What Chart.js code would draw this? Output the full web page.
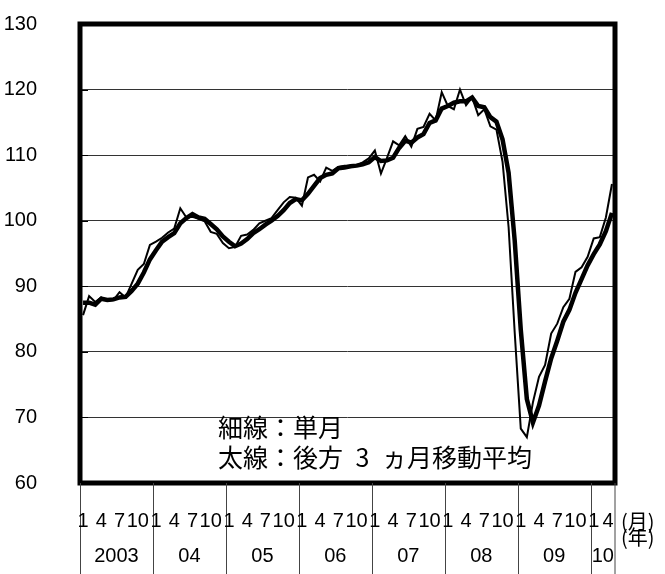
<!DOCTYPE html>
<html>
<head>
<meta charset="utf-8">
<script src="https://cdn.jsdelivr.net/npm/chart.js@4.4.1/dist/chart.umd.min.js"></script>
<style>
  html, body { margin: 0; padding: 0; background: #fff; }
  canvas { display: block; }
</style>
</head>
<body>
<canvas id="grafica" width="665" height="574"></canvas>
<script>
// años y meses del eje x
const years = ['2003', '04', '05', '06', '07', '08', '09', '10'];
const monthsPerYear = [12, 12, 12, 12, 12, 12, 12, 4];
const monthTicks = ['1', '4', '7', '10'];

// 細線：単月
const monthly = [
  85.6, 88.5, 87.6, 88.3, 87.8, 87.9, 89.1, 88.3, 90.4, 92.5, 93.4, 96.3,
  96.8, 97.4, 98.2, 98.8, 101.9, 100.5, 100.6, 100.3, 99.9, 98.3, 98.0, 96.6,
  95.8, 96.0, 97.7, 97.9, 98.6, 99.6, 100.0, 100.4, 101.6, 102.8, 103.6, 103.5,
  102.3, 106.6, 107.0, 106.0, 108.1, 107.6, 108.2, 108.4, 108.4, 108.4, 108.9, 109.5,
  110.7, 107.2, 109.6, 112.1, 111.5, 112.9, 111.3, 114.0, 114.3, 116.3, 115.3, 119.6,
  117.5, 117.0, 120.0, 117.6, 118.8, 116.1, 117.0, 114.4, 113.9, 109.0, 99.0, 83.0,
  68.3, 67.0, 72.3, 76.2, 78.0, 82.8, 84.3, 86.8, 88.1, 92.2, 92.9, 94.5,
  97.3, 97.5, 100.5, 105.6
];

// 太線：後方３ヵ月移動平均
const movingAvg3 = [
  87.5, 87.5, 87.2, 88.1, 87.9, 88.0, 88.3, 88.4, 89.3, 90.4, 92.1, 94.1,
  95.5, 96.8, 97.5, 98.1, 99.6, 100.4, 101.0, 100.5, 100.3, 99.5, 98.7, 97.6,
  96.8, 96.1, 96.5, 97.2, 98.1, 98.7, 99.4, 100.0, 100.7, 101.6, 102.7, 103.3,
  103.1, 104.1, 105.3, 106.5, 107.0, 107.2, 108.0, 108.1, 108.3, 108.4, 108.6, 108.9,
  109.7, 109.1, 109.2, 109.6, 111.1, 112.2, 111.9, 112.7, 113.2, 114.9, 115.3, 117.1,
  117.5, 118.0, 118.2, 118.2, 118.8, 117.5, 117.3, 115.8, 115.1, 112.4, 107.3, 97.0,
  83.4, 72.8, 69.2, 71.8, 75.5, 79.0, 81.7, 84.6, 86.4, 89.0, 91.1, 93.2,
  94.9, 96.4, 98.4, 101.2
];

const legendLines = ['細線：単月', '太線：後方\u20023\u2002ヵ月移動平均'];
const unitLabels = ['(月)', '(年)'];

const numFont = "'Liberation Sans', Arial, sans-serif";
const cjkFont = "'Noto Sans CJK JP', sans-serif";

// etiquetas de categoría: año/mes
const labels = [];
years.forEach((y, k) => {
  for (let m = 1; m <= monthsPerYear[k]; m++) {
    labels.push(y + '/' + m);
  }
});

const fondoBlanco = {
  id: 'fondoBlanco',
  beforeDraw(chart) {
    const ctx = chart.ctx;
    ctx.save();
    ctx.fillStyle = '#fff';
    ctx.fillRect(0, 0, chart.width, chart.height);
    ctx.restore();
  }
};

const marcoYTextos = {
  id: 'marcoYTextos',
  afterDraw(chart) {
    const ctx = chart.ctx;
    const area = chart.chartArea;
    const xs = chart.scales.x;
    const ys = chart.scales.y;
    const catW = xs.getPixelForValue(1) - xs.getPixelForValue(0);

    ctx.save();

    // marquitas hacia dentro en el borde izquierdo
    ctx.strokeStyle = '#000';
    ctx.lineWidth = 1;
    ys.ticks.forEach(t => {
      const py = Math.round(ys.getPixelForValue(t.value)) + 0.5;
      ctx.beginPath();
      ctx.moveTo(area.left, py);
      ctx.lineTo(area.left + 8, py);
      ctx.stroke();
    });

    // marco grueso
    ctx.lineWidth = 5;
    ctx.strokeRect(area.left, area.top, area.right - area.left, area.bottom - area.top);

    // separadores de año y etiquetas
    ctx.lineWidth = 1;
    ctx.strokeStyle = '#444';
    ctx.fillStyle = '#000';
    ctx.textBaseline = 'middle';
    let idx = 0;
    years.forEach((y, k) => {
      const sep = xs.getPixelForValue(idx) - catW / 2;
      const fin = xs.getPixelForValue(idx + monthsPerYear[k] - 1) + catW / 2;
      ctx.beginPath();
      ctx.moveTo(Math.round(sep) + 0.5, area.bottom);
      ctx.lineTo(Math.round(sep) + 0.5, chart.height);
      ctx.stroke();

      ctx.font = '20px ' + numFont;
      ctx.textAlign = 'center';
      monthTicks.forEach(mt => {
        const m = parseInt(mt, 10);
        if (m <= monthsPerYear[k]) {
          // el último mes no pasa la línea del borde derecho
          const px = Math.min(xs.getPixelForValue(idx + m - 1), area.right - 7);
          ctx.fillText(mt, px, 521);
        }
      });
      ctx.fillText(y, (sep + fin) / 2, 556);
      idx += monthsPerYear[k];
    });
    ctx.beginPath();
    ctx.moveTo(area.right, area.bottom);
    ctx.lineTo(area.right, chart.height);
    ctx.stroke();

    ctx.textAlign = 'left';
    ctx.font = '20px ' + cjkFont;
    ctx.fillText(unitLabels[0], area.right + 6, 521);
    ctx.fillText(unitLabels[1], area.right + 6, 537);

    // leyenda dentro del gráfico
    ctx.font = '25px ' + cjkFont;
    ctx.fillText(legendLines[0], 218, 427);
    ctx.fillText(legendLines[1], 218, 457);

    ctx.restore();
  }
};

new Chart(document.getElementById('grafica').getContext('2d'), {
  type: 'line',
  data: {
    labels: labels,
    datasets: [
      {
        label: '単月',
        data: monthly,
        borderColor: '#000',
        borderWidth: 2,
        pointRadius: 0,
        tension: 0
      },
      {
        label: '後方３ヵ月移動平均',
        data: movingAvg3,
        borderColor: '#000',
        borderWidth: 4.5,
        pointRadius: 0,
        tension: 0
      }
    ]
  },
  options: {
    responsive: false,
    animation: false,
    devicePixelRatio: 1,
    layout: { padding: { top: 24, right: 50, bottom: 91, left: 0 } },
    plugins: {
      legend: { display: false },
      tooltip: { enabled: false }
    },
    scales: {
      x: {
        type: 'category',
        offset: true,
        display: false
      },
      y: {
        min: 60,
        max: 130,
        afterFit(scale) { scale.width = 80; },
        ticks: {
          stepSize: 10,
          padding: 4,
          color: '#000',
          font: { family: numFont, size: 20 }
        },
        grid: {
          color: '#333',
          lineWidth: 1,
          drawTicks: true,
          tickLength: 39,
          tickColor: 'rgba(0,0,0,0)'
        },
        border: { display: false }
      }
    }
  },
  plugins: [fondoBlanco, marcoYTextos]
});
</script>
</body>
</html>
